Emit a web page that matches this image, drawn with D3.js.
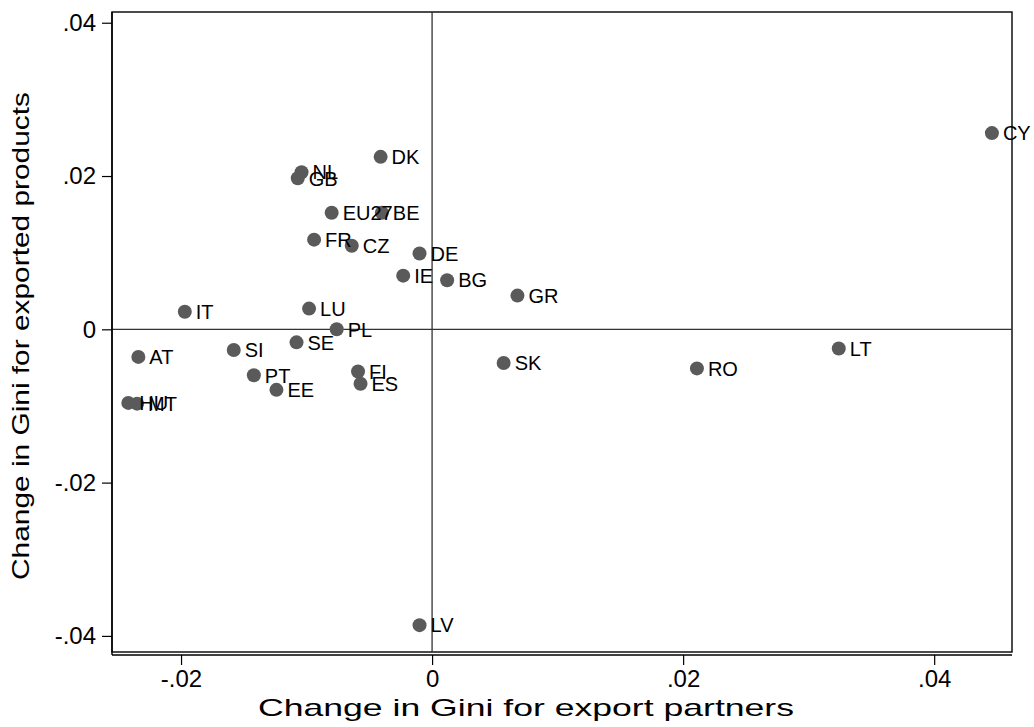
<!DOCTYPE html>
<html><head><meta charset="utf-8">
<script src="https://cdn.jsdelivr.net/npm/d3@7"></script>
<style>body{margin:0;background:#fff;}svg{display:block;}text{font-family:Arial,"Liberation Sans",sans-serif;}</style>
</head><body>
<svg id="chart" width="1034" height="727"></svg>
<script>
const countries = ["CY","DK","NL","GB","EU27","BE","FR","CZ","DE","IE","BG","GR","IT","LU","PL","SE","SI","AT","PT","EE","FI","ES","SK","RO","LT","LV","HU","MT"];
const partnersChange = [0.0446,-0.0041,-0.0104,-0.0107,-0.0080,-0.0040,-0.0094,-0.0064,-0.0010,-0.0023,0.0012,0.0068,-0.0197,-0.0098,-0.0076,-0.0108,-0.0158,-0.0234,-0.0142,-0.0124,-0.0059,-0.0057,0.0057,0.0211,0.0324,-0.0010,-0.0242,-0.0235];
const productsChange = [0.0256,0.0225,0.0205,0.0197,0.0152,0.0152,0.0117,0.0109,0.0099,0.0070,0.0064,0.0044,0.0023,0.0027,0.0000,-0.0017,-0.0027,-0.0036,-0.0060,-0.0079,-0.0055,-0.0071,-0.0044,-0.0051,-0.0025,-0.0386,-0.0096,-0.0097];
const xTicks = [-0.02, 0, 0.02, 0.04];
const yTicks = [-0.04, -0.02, 0, 0.02, 0.04];
const xTickLabels = ["-.02","0",".02",".04"];
const yTickLabels = ["-.04","-.02","0",".02",".04"];
const xTitle = "Change in Gini for export partners";
const yTitle = "Change in Gini for exported products";

const data = countries.map((c,i)=>({c, x:partnersChange[i], y:productsChange[i]}));
const svg = d3.select("#chart");
const L=112, R=1012, T=12, B=652;
const x = d3.scaleLinear().domain([-0.0255, 0.0462]).range([L, R]);
const y = d3.scaleLinear().domain([-0.0421, 0.0414]).range([B, T]);

// plot frame
svg.append("rect").attr("x",L).attr("y",T).attr("width",R-L).attr("height",B-T)
  .attr("fill","none").attr("stroke","#000").attr("stroke-width",1.4);

// reference lines
svg.append("line").attr("x1",x(0)).attr("x2",x(0)).attr("y1",T).attr("y2",B).attr("stroke","#333").attr("stroke-width",1.3);
svg.append("line").attr("x1",L).attr("x2",R).attr("y1",y(0)).attr("y2",y(0)).attr("stroke","#333").attr("stroke-width",1.3);

const FONT = "Arial, 'Liberation Sans', sans-serif";
// axes
const xAxis = d3.axisBottom(x).tickValues(xTicks).tickSize(10).tickPadding(5)
  .tickFormat((d,i)=>xTickLabels[i]);
const gx = svg.append("g").attr("transform",`translate(0,${B+3})`).call(xAxis);
gx.select(".domain").attr("stroke","#000").attr("stroke-width",1.4).attr("d",`M${L},0H${R}`);
gx.selectAll(".tick line").attr("stroke","#000").attr("stroke-width",1.2);
gx.selectAll(".tick text").attr("font-size",24).attr("fill","#000").attr("font-family",FONT);

const yAxis = d3.axisLeft(y).tickValues(yTicks).tickSize(10).tickPadding(6)
  .tickFormat((d,i)=>yTickLabels[i]);
const gy = svg.append("g").attr("transform",`translate(${L},0)`).call(yAxis);
gy.select(".domain").attr("stroke","#000").attr("stroke-width",1.4).attr("d",`M0,${T}V${B+3}`);
gy.selectAll(".tick line").attr("stroke","#000").attr("stroke-width",1.2);
gy.selectAll(".tick text").attr("font-size",24).attr("fill","#000").attr("font-family",FONT);

// titles
svg.append("text").attr("x",526).attr("y",716).attr("text-anchor","middle")
  .attr("font-size",24).attr("fill","#000").attr("textLength",536).attr("lengthAdjust","spacingAndGlyphs").text(xTitle);
svg.append("text").attr("transform",`translate(29,336) rotate(-90)`).attr("text-anchor","middle")
  .attr("font-size",24).attr("fill","#000").attr("textLength",488).attr("lengthAdjust","spacingAndGlyphs").text(yTitle);

// points
svg.append("g").selectAll("circle").data(data).join("circle")
  .attr("cx",d=>x(d.x)).attr("cy",d=>y(d.y)).attr("r",7).attr("fill","#5a5a5a");
svg.append("g").selectAll("text").data(data).join("text")
  .attr("x",d=>x(d.x)+11).attr("y",d=>y(d.y)).attr("dy","0.36em")
  .attr("font-size",20).attr("fill","#000").text(d=>d.c);
</script>
</body></html>
